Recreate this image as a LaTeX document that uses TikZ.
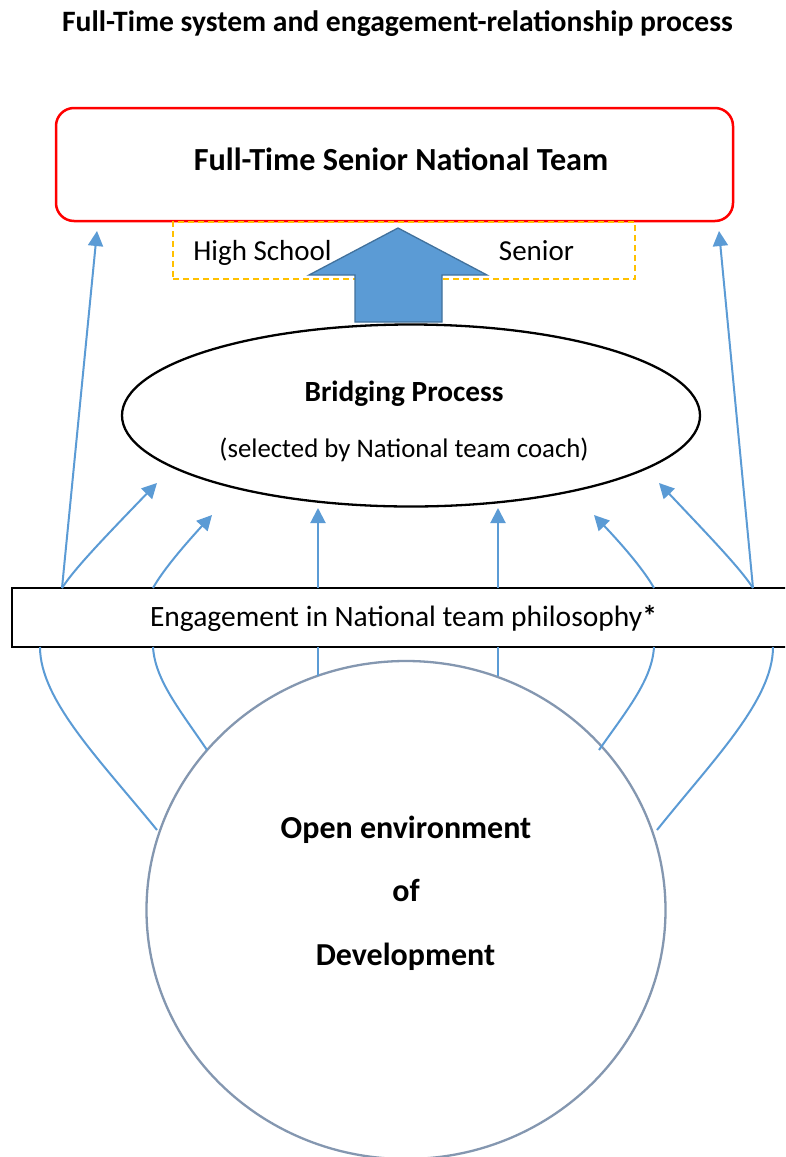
\documentclass[tikz,border=0pt]{standalone}
\usepackage{fontspec}
\setmainfont{Carlito}
\usetikzlibrary{arrows.meta,shapes.geometric}
\definecolor{lblue}{HTML}{5B9BD5}
\definecolor{dblue}{HTML}{41719C}
\definecolor{gold}{HTML}{FFC000}
\definecolor{cgray}{HTML}{8497B0}
\tikzset{
  txt/.style={anchor=base,inner sep=0pt,font=\fontsize{29}{34}\selectfont},
  btxt/.style={anchor=base,inner sep=0pt,font=\fontsize{29}{34}\selectfont\bfseries},
  conn/.style={draw=lblue,line width=2pt},
  arr/.style={conn,-{Triangle[length=15pt,width=15pt]}},
}
\begin{document}
\begin{tikzpicture}[x=1pt,y=-1pt]
\clip (0,0) rectangle (785,1157);
\fill[white] (0,0) rectangle (785,1157);
% title
\node[btxt,font=\fontsize{29.6}{34}\selectfont\bfseries] (title) at (397.5,31) {Full-Time system and engagement-relationship process};
% top box
\node[draw=red,line width=2.5pt,rounded corners=18pt,minimum width=677pt,minimum height=113pt,inner sep=0pt] (top) at (394.5,164.5) {};
\node[btxt,font=\fontsize{32.2}{36}\selectfont\bfseries] (toptxt) at (401,170.5) {Full-Time Senior National Team};
% dashed box
\node[draw=gold,line width=1.6pt,dash pattern=on 6pt off 4pt,minimum width=462pt,minimum height=57pt,inner sep=0pt] (hs) at (404,250.5) {};
\node[txt] (hstxt) at (262.5,260) {High School};
\node[txt] (sentxt) at (536.5,260) {Senior};
% big arrow
\draw[fill=lblue,draw=dblue,line width=1.3pt] (355,322) -- (355,275) -- (309,275) -- (398,228) -- (487,275) -- (442,275) -- (442,322) -- cycle;
\coordinate (bigarrow) at (398,228);
% bridging ellipse
\node[draw,ellipse,line width=2.3pt,minimum width=578pt,minimum height=182pt,inner sep=0pt] (bridge) at (411,415.5) {};
\node[btxt,font=\fontsize{29.3}{34}\selectfont\bfseries] (brtxt) at (404,401) {Bridging Process};
\node[txt,font=\fontsize{26.8}{32}\selectfont] (seltxt) at (404,457) {(selected by National team coach)};
% engagement rectangle
\node[draw,line width=1.8pt,minimum width=783pt,minimum height=59pt,inner sep=0pt] (eng) at (403.5,617.5) {};
\node[txt,font=\fontsize{29.5}{34}\selectfont] (engtxt) at (403.5,626.5) {Engagement in National team philosophy\textbf{*}};
% environment circle
\node[draw=cgray,ellipse,line width=2.3pt,minimum width=519pt,minimum height=498pt,inner sep=0pt] (env) at (406,910) {};
\node[btxt,font=\fontsize{32}{36}\selectfont\bfseries] (envtxt1) at (406,838) {Open environment};
\node[btxt,font=\fontsize{32}{36}\selectfont\bfseries] (envtxt2) at (406,901.5) {of};
\node[btxt,font=\fontsize{32}{36}\selectfont\bfseries] (envtxt3) at (405.5,965) {Development};
% coordinates
\coordinate (u1) at (62,588);
\coordinate (u2) at (153,588);
\coordinate (u3) at (318,588);
\coordinate (u4) at (498,588);
\coordinate (u5) at (654,588);
\coordinate (u6) at (753,588);
\coordinate (l1) at (40,647);
\coordinate (l2) at (153,647);
\coordinate (l3) at (318,647);
\coordinate (l4) at (498,647);
\coordinate (l5) at (654,647);
\coordinate (l6) at (773,647);
\coordinate (tl) at (97,231);
\coordinate (tr) at (719,231);
\coordinate (b1) at (157,483);
\coordinate (b2) at (212,515);
\coordinate (b3) at (318,508);
\coordinate (b4) at (498,508);
\coordinate (b5) at (594,515);
\coordinate (b6) at (659,483);
\coordinate (c1) at (157,830);
\coordinate (c2) at (207,750);
\coordinate (c3) at (318,676);
\coordinate (c4) at (498,676);
\coordinate (c5) at (599,750);
\coordinate (c6) at (657,830);
% upper arrows
\draw[arr] (u1) -- (tl);
\draw[arr] (u6) -- (tr);
\draw[arr] (u1) .. controls (75,568) and (105,537) .. (b1);
\draw[arr] (u2) .. controls (162,572) and (180,550) .. (b2);
\draw[arr] (u3) -- (b3);
\draw[arr] (u4) -- (b4);
\draw[arr] (u5) .. controls (645,572) and (627,550) .. (b5);
\draw[arr] (u6) .. controls (740,568) and (710,537) .. (b6);
% lower connectors
\draw[conn] (l1) .. controls (40,700) and (100,760) .. (c1);
\draw[conn] (l2) .. controls (155,680) and (180,710) .. (c2);
\draw[conn] (l3) -- (c3);
\draw[conn] (l4) -- (c4);
\draw[conn] (l5) .. controls (652,680) and (627,710) .. (c5);
\draw[conn] (l6) .. controls (773,700) and (713,760) .. (c6);
\end{tikzpicture}
\end{document}
